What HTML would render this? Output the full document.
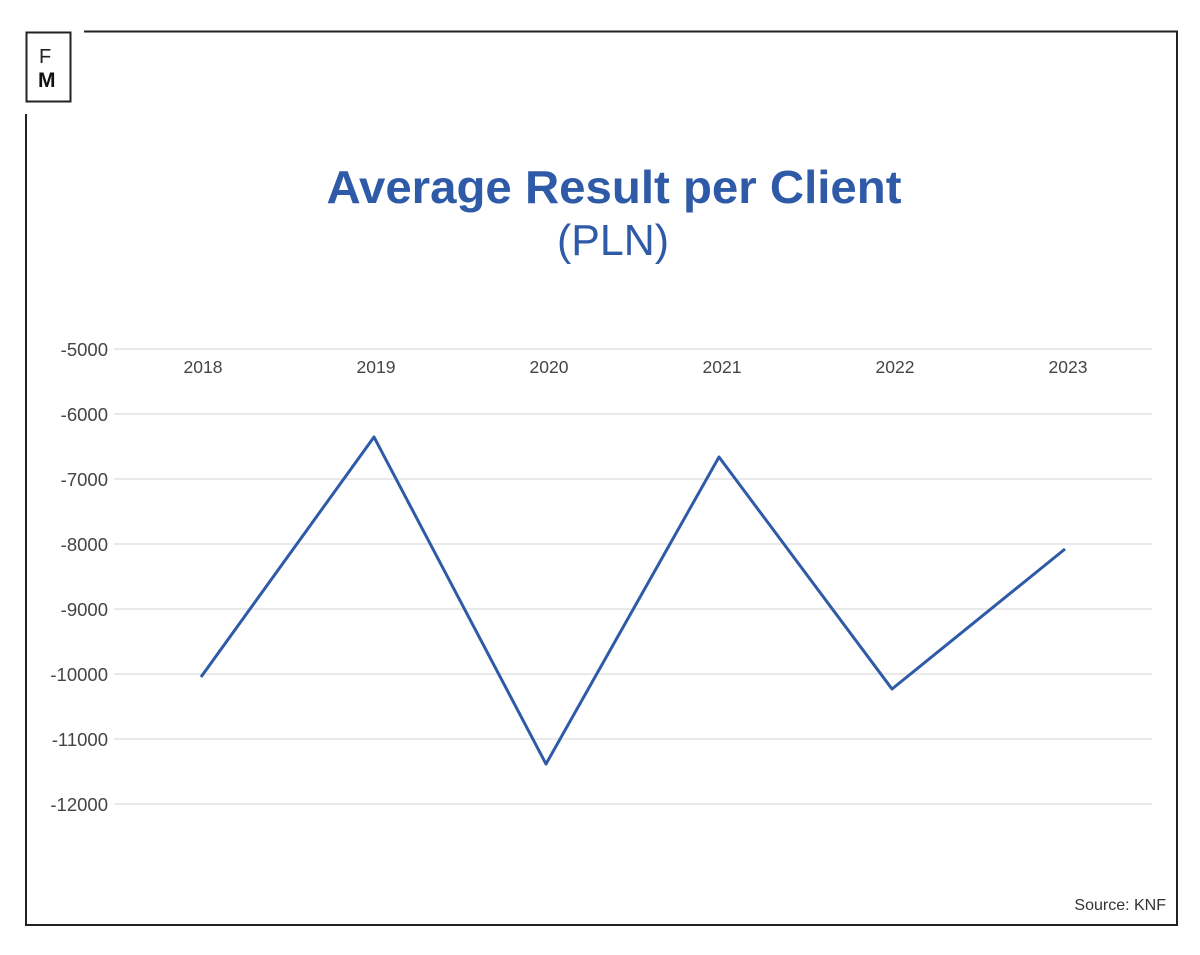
<!DOCTYPE html>
<html><head><meta charset="utf-8"><style>
html,body{margin:0;padding:0;background:#fff;}
svg{display:block;}
</style></head><body>
<svg width="1200" height="955" viewBox="0 0 1200 955" xmlns="http://www.w3.org/2000/svg" font-family="Liberation Sans, sans-serif">
<rect width="1200" height="955" fill="#fff"/>
<path d="M84 31.5 H1177 V925 H26 V114" fill="none" stroke="#222" stroke-width="2"/>
<rect x="26.5" y="32.5" width="44" height="69" fill="#fff" stroke="#222" stroke-width="2"/>
<text x="39" y="63" font-size="20" fill="#222">F</text>
<text x="38" y="87" font-size="21" font-weight="bold" fill="#111">M</text>
<text x="614" y="203" text-anchor="middle" font-size="46" font-weight="bold" fill="#2f5aa8" textLength="575" lengthAdjust="spacingAndGlyphs">Average Result per Client</text>
<text x="613" y="255" text-anchor="middle" font-size="44" fill="#2f5aa8" textLength="112" lengthAdjust="spacingAndGlyphs">(PLN)</text>
<g stroke="#dcdcdc" stroke-width="1.3">
<line x1="114" x2="1152" y1="349" y2="349"/>
<line x1="114" x2="1152" y1="414" y2="414"/>
<line x1="114" x2="1152" y1="479" y2="479"/>
<line x1="114" x2="1152" y1="544" y2="544"/>
<line x1="114" x2="1152" y1="609" y2="609"/>
<line x1="114" x2="1152" y1="674" y2="674"/>
<line x1="114" x2="1152" y1="739" y2="739"/>
<line x1="114" x2="1152" y1="804" y2="804"/>
</g>
<g font-size="18.5" fill="#444" text-anchor="end">
<text x="108" y="356">-5000</text>
<text x="108" y="421">-6000</text>
<text x="108" y="486">-7000</text>
<text x="108" y="551">-8000</text>
<text x="108" y="616">-9000</text>
<text x="108" y="681">-10000</text>
<text x="108" y="746">-11000</text>
<text x="108" y="811">-12000</text>
</g>
<g font-size="17.5" fill="#444" text-anchor="middle">
<text x="203" y="373">2018</text>
<text x="376" y="373">2019</text>
<text x="549" y="373">2020</text>
<text x="722" y="373">2021</text>
<text x="895" y="373">2022</text>
<text x="1068" y="373">2023</text>
</g>
<polyline points="201,677 374,437 546,764 719,457 892,689 1065,549" fill="none" stroke="#2f5aa8" stroke-width="3" stroke-linejoin="round"/>
<text x="1166" y="910" text-anchor="end" font-size="16" fill="#333">Source: KNF</text>
</svg>
</body></html>
